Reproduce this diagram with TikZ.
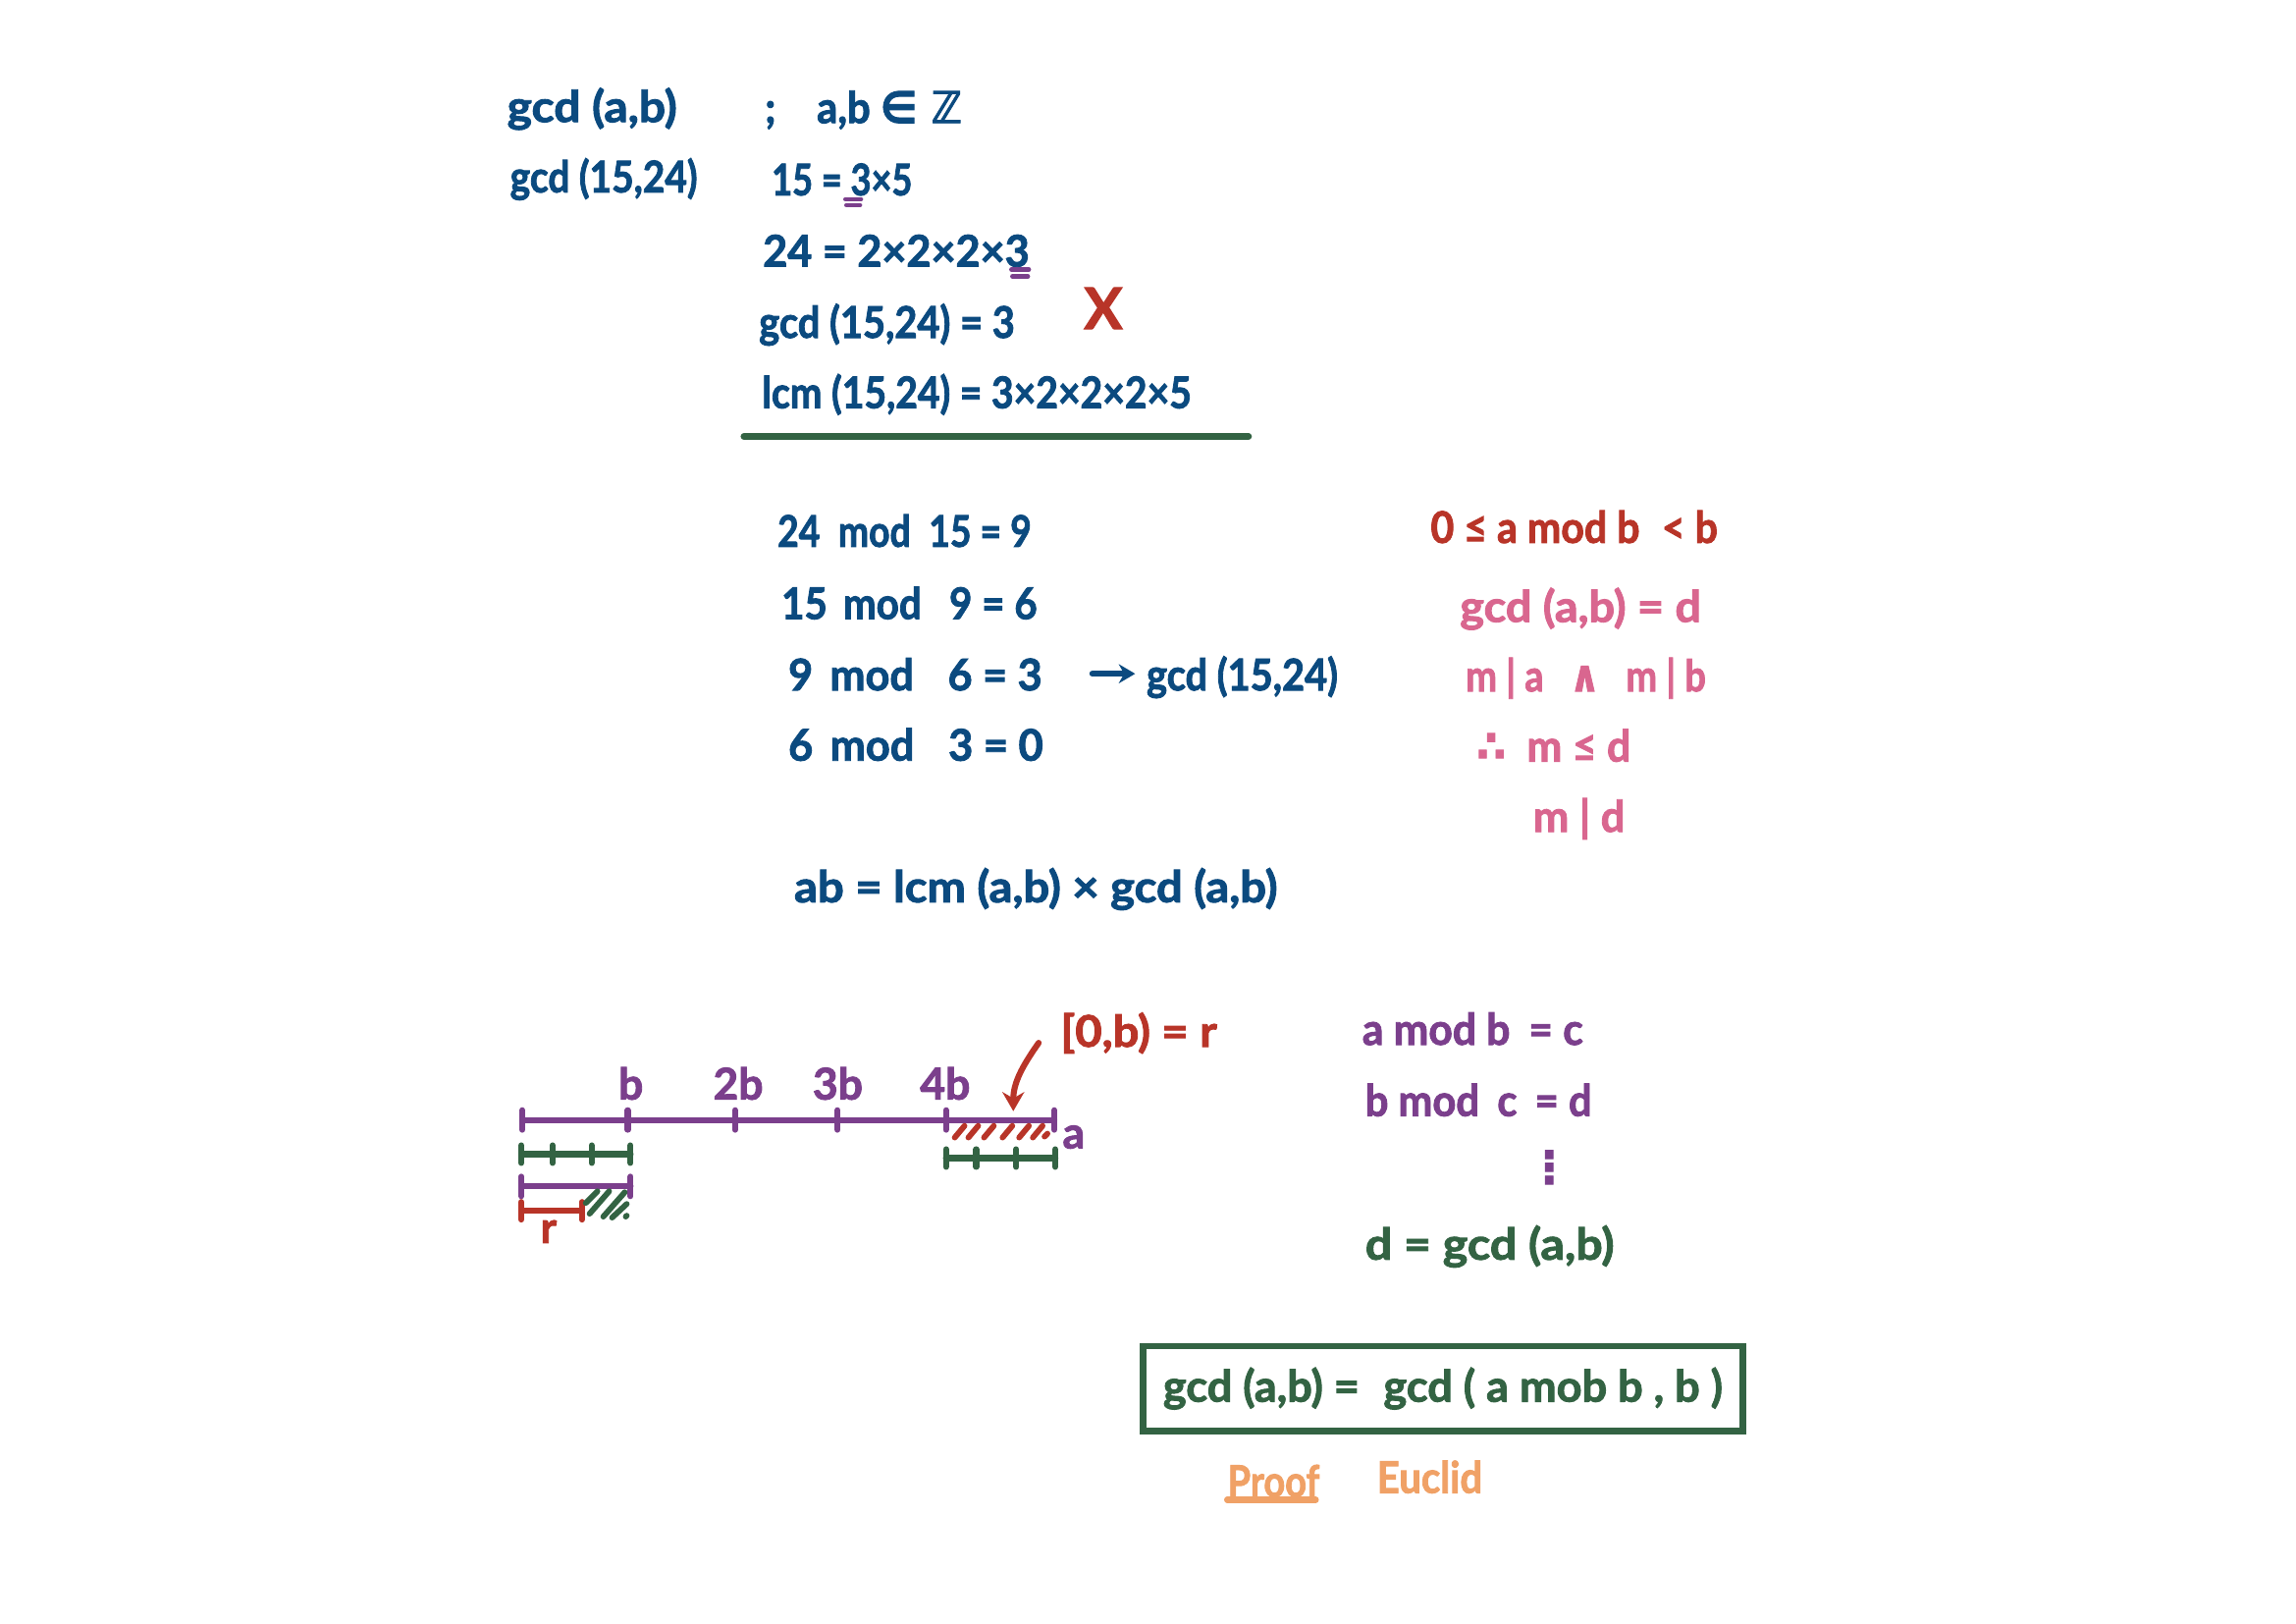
\documentclass[tikz,border=0pt]{standalone}
\usepackage{fontspec}
\usepackage{graphicx}
\setmainfont{Lato}[BoldFeatures={FakeBold=2}]
\newfontfamily\symfont{DejaVu Sans}[UprightFeatures={FakeBold=2},BoldFeatures={FakeBold=2}]
\usetikzlibrary{positioning,arrows.meta}
\definecolor{inkblue}{HTML}{0B4A7F}
\definecolor{inkgreen}{HTML}{336343}
\definecolor{inkpurple}{HTML}{7B3F8C}
\definecolor{inkred}{HTML}{B83428}
\definecolor{inkpink}{HTML}{D9668F}
\definecolor{inkorange}{HTML}{F0A166}
\newlength\pxu
\setlength\pxu{.358pt}
\newcommand{\hw}[2]{\resizebox{#1\pxu}{\height}{#2}}
\tikzset{
  hand/.style={anchor=base west,inner sep=0pt,font=\fontsize{16}{18}\selectfont\bfseries},
  stroke/.style={line width=2.2pt,line cap=round},
  hatch/.style={line width=2.1pt,line cap=round},
}
\begin{document}
\begin{tikzpicture}[x=.358pt,y=-.358pt]
    \useasboundingbox (0,0) rectangle (2352,1663);
    % first block
    \begin{scope}[every node/.append style={hand,text=inkblue}]
      \node (gab) at (519,125) {\hw{174}{gcd (a,b)}};
      \node (gnum) at (522,197) {\hw{192}{gcd (15,24)}};
      \node (semi) at (783,126) {\hw{202}{;\hspace{1em}a,b {\symfont ∈ ℤ}}};
      \node (f15) at (790,200) {\hw{144}{15 = 3×5}};
      \node (f24) at (781,273) {\hw{273}{24 = 2×2×2×3}};
      \node (gres) at (777,346) {\hw{262}{gcd (15,24) = 3}};
      \node (lres) at (780,418) {\hw{440}{lcm (15,24) = 3×2×2×2×5}};
    \end{scope}
    \node[hand,text=inkred,font=\fontsize{21}{22}\selectfont\bfseries] (cross) at (1110,337) {X};
    \draw[stroke,inkpurple,line width=1.6pt] (866,204) -- (882,204);
    \draw[stroke,inkpurple,line width=1.6pt] (867,210) -- (881,210);
    \draw[stroke,inkpurple,line width=1.6pt] (1036,276) -- (1054,276);
    \draw[stroke,inkpurple,line width=1.6pt] (1037,283) -- (1053,283);
    \draw[stroke,inkgreen,line width=2.4pt] (762,447) -- (1279,447);
    % mod chain
    \begin{scope}[every node/.append style={hand,text=inkblue}]
      \node (m1) at (796,560) {\hw{260}{24\hspace{.5em}mod\hspace{.5em}15 = 9}};
      \node (m2) at (800,634) {\hw{262}{15\hspace{.4em}mod\hspace{.7em}9 = 6}};
      \node (m3) at (807,707) {\hw{260}{9\hspace{.4em}mod\hspace{.8em}6 = 3}};
      \node (m4) at (807,779) {\hw{261}{6\hspace{.4em}mod\hspace{.8em}3 = 0}};
      \node (gnew) at (1174,707) {\hw{196}{gcd (15,24)}};
      \node (prod) at (813,924) {\hw{495}{ab = lcm (a,b) × gcd (a,b)}};
    \end{scope}
    \coordinate (ar1) at (1119,690);
    \draw[stroke,inkblue,shorten >=4pt,-{Stealth[length=6pt,width=7pt]}] (ar1) -- (gnew.west |- ar1) ;
    % right notes
    \node[hand,text=inkred] (bound) at (1465,556) {\hw{294}{0 ≤ a mod b\hspace{.3em} < b}};
    \begin{scope}[every node/.append style={hand,text=inkpink}]
      \node (gd) at (1495,637) {\hw{247}{gcd (a,b) = d}};
      \node (div) at (1501,708) {\hw{246}{m | a\hspace{.7em}{\symfont ∧}\hspace{.7em}m | b}};
      \node (le) at (1512,780) {\hw{158}{{\symfont ∴}\hspace{.5em}m ≤ d}};
      \node (mid) at (1570,852) {\hw{94}{m | d}};
    \end{scope}
    % number line
    \begin{scope}[stroke,inkpurple]
      \coordinate (n0) at (535,1147);
      \coordinate (n5) at (1080,1147);
      \draw (n0) -- (n5);
      \foreach \x in {535,643,753,858,969,1080}
        \draw (\x,1137) -- (\x,1157);
      \draw (534,1215) -- (646,1215);
      \draw (534,1205) -- (534,1225);
      \draw (646,1205) -- (646,1225);
    \end{scope}
    \begin{scope}[every node/.append style={hand,text=inkpurple}]
      \node (lb) at (633,1126) {b};
      \node (l2) at (730,1126) {2b};
      \node (l3) at (832,1126) {3b};
      \node (l4) at (942,1126) {4b};
      \node (la) at (1088,1176) {a};
    \end{scope}
    \begin{scope}[stroke,inkgreen]
      \draw (534,1182) -- (646,1182);
      \foreach \x in {534,566,606,646}
        \draw (\x,1173) -- (\x,1191);
      \draw (969,1186) -- (1081,1186);
      \foreach \x in {969,1000,1041,1081}
        \draw (\x,1177) -- (\x,1195);
    \end{scope}
    \begin{scope}[stroke,inkred]
      \draw (534,1240) -- (596,1240);
      \draw (534,1231) -- (534,1249);
      \draw (596,1231) -- (596,1249);
    \end{scope}
    \node[hand,text=inkred] (lr) at (553,1273) {r};
    % hatching
    \begin{scope}[hatch,inkred]
      \foreach \x in {978,992,1008,1027,1044,1058}
        \draw (\x,1165) -- (\x+10,1153);
      \draw (1070,1164) -- (1073,1161);
    \end{scope}
    \begin{scope}[hatch,inkgreen]
      \draw (600,1232) -- (612,1220);
      \draw (604,1243) -- (624,1220);
      \draw (618,1246) -- (640,1221);
      \draw (627,1247) -- (642,1233);
      \draw (641,1246) -- (642,1245);
    \end{scope}
    \node[hand,text=inkred] (intv) at (1086,1072) {\hw{160}{[0,b) = r}};
    \coordinate (astart) at (1064,1068);
    \coordinate (aend) at (1038,1138);
    \draw[stroke,inkred,-{Stealth[length=7pt,width=8pt]}] (astart) to[out=235,in=90] (aend);
    % euclid steps
    \begin{scope}[every node/.append style={hand,text=inkpurple}]
      \node (e1) at (1395,1070) {\hw{226}{a mod b\hspace{.2em} = c}};
      \node (e2) at (1398,1143) {\hw{232}{b mod\hspace{.2em} c\hspace{.2em} = d}};
      \node (edots) at (1564,1211) {{\symfont ⋮}};
    \end{scope}
    \node[hand,text=inkgreen] (e3) at (1398,1290) {\hw{255}{d = gcd (a,b)}};
    % result
    \node[hand,anchor=center,text=inkgreen,draw=inkgreen,line width=2.4pt,
          minimum width=220pt,minimum height=31pt] (thm) at (1478,1422)
          {\hw{573}{gcd (a,b) =\hspace{.3em} gcd ( a mob b , b )}};
    \node[hand,text=inkorange] (proof) at (1257,1533) {\hw{94}{Proof}};
    \node[hand,text=inkorange] (euclid) at (1410,1529) {\hw{108}{Euclid}};
    \coordinate (pu) at (1257,1536);
    \draw[stroke,inkorange,shorten >=1.5pt] (pu) -- (proof.east |- pu);
\end{tikzpicture}
\end{document}
